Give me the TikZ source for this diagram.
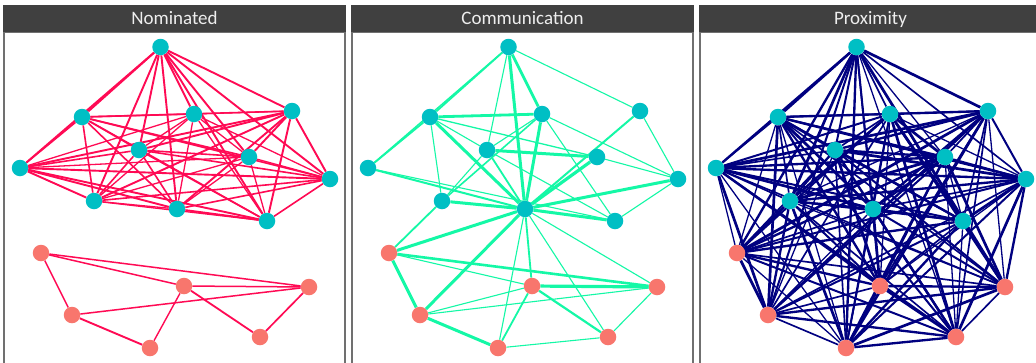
\documentclass[tikz,border=0pt]{standalone}
\usepackage{fontspec}
\setmainfont{Carlito}
\usetikzlibrary{backgrounds}
\pgfdeclarelayer{edges}
\pgfsetlayers{background,edges,main}
\definecolor{hdrfill}{HTML}{404040}
\definecolor{hdrtext}{HTML}{EEEEEE}
\definecolor{framec}{HTML}{707070}
\definecolor{tealc}{HTML}{00BFC4}
\definecolor{salmonc}{HTML}{F8766D}
\definecolor{nomc}{HTML}{FF0A54}
\definecolor{commc}{HTML}{14F8A6}
\definecolor{proxc}{HTML}{000080}
\tikzset{
  dot/.style={circle, inner sep=0pt, minimum size=16.5pt, draw=none},
  hdrbox/.style={fill=hdrfill, draw=none},
  hdrlabel/.style={text=hdrtext, font=\fontsize{19}{22}\selectfont, inner sep=0pt, anchor=base},
  framel/.style={draw=framec, line width=1.5pt},
  nom/.style={draw=nomc},
  comm/.style={draw=commc},
  prox/.style={draw=proxc},
}
\begin{document}
\begin{tikzpicture}[x=1pt,y=-1pt]
\useasboundingbox (0,0) rectangle (1036,362);
\clip (0,0) rectangle (1036,362);
\begin{pgfonlayer}{background}
\fill[white] (0,0) rectangle (1036,362);
\end{pgfonlayer}
% panels
\foreach \p/\ox/\ttl in {a/4/Nominated,b/352/Communication,c/700/Proximity}{
  \draw[framel] (\ox,370) -- (\ox,32) -- (\ox+341,32) -- (\ox+341,370);
  \path[hdrbox] (\ox-0.75,5) rectangle (\ox+341.75,32);
  \node[hdrlabel] (\p title) at (\ox+170.5,24.5) {\ttl};
  \foreach \k/\x/\y/\col in {1/156.5/47/tealc, 2/78/117/tealc, 3/190/114/tealc, 4/288/111/tealc,
      5/135/150/tealc, 6/245/157/tealc, 7/16/168/tealc, 8/326/179/tealc, 9/90/201/tealc,
      10/173/209/tealc, 11/263/221/tealc, 12/37/253/salmonc, 13/180/286/salmonc,
      14/305/287/salmonc, 15/68/315/salmonc, 16/256/337/salmonc, 17/146/348/salmonc}{
    \node[dot, fill=\col] (\p\k) at (\ox+\x,\y) {};
  }
}
\begin{pgfonlayer}{edges}
% Nominated: teal cluster
\foreach \i in {1,...,10}{
  \pgfmathtruncatemacro{\jst}{\i+1}
  \foreach \j in {\jst,...,11}{
    \pgfmathsetmacro{\w}{1.3+mod(\i*5+\j*3,3)*0.3}
    \draw[nom, line width=\w pt] (a\i) -- (a\j);
  }
}
\foreach \u/\v/\w in {12/13/1.5, 12/14/1.5, 12/15/1.5, 13/14/1.5, 13/17/1.4, 13/16/1.8,
    15/14/1.5, 15/17/1.9, 14/16/1.7}{
  \draw[nom, line width=\w pt] (a\u) -- (a\v);
}
% Communication
\foreach \u/\v/\w in {1/2/1.8, 1/7/1.4, 2/7/1.8, 1/5/1.1, 1/10/3.0, 1/3/2.8, 1/4/1.1,
    2/3/2.8, 2/5/1.1, 2/6/1.3, 2/9/1.1, 2/10/3.0,
    7/10/2.0, 7/11/1.1,
    9/10/3.0, 9/3/1.6, 9/5/1.1,
    5/10/1.8, 5/6/3.0, 5/3/1.1, 5/11/1.1,
    3/10/3.0, 3/8/1.1, 3/11/1.1,
    4/10/2.0, 6/10/3.2, 4/8/1.1, 6/8/1.1, 10/8/3.0, 8/11/1.1, 10/11/3.0,
    9/12/1.8, 10/12/3.0, 10/15/3.0, 10/17/1.1, 10/13/1.8, 10/16/1.1, 10/14/1.1,
    12/14/2.6, 12/13/1.1, 12/15/3.0, 13/14/3.2, 13/15/1.1, 15/14/1.1, 15/17/3.0,
    13/17/1.8, 13/16/2.2, 17/16/1.1, 16/14/1.1}{
  \draw[comm, line width=\w pt] (b\u) -- (b\v);
}
% Proximity: all pairs
\foreach \i in {1,...,16}{
  \pgfmathtruncatemacro{\jst}{\i+1}
  \foreach \j in {\jst,...,17}{
    \pgfmathsetmacro{\w}{1.3+mod(\i*7+\j*13,5)*0.35}
    \draw[prox, line width=\w pt] (c\i) -- (c\j);
  }
}
\end{pgfonlayer}
\end{tikzpicture}
\end{document}
